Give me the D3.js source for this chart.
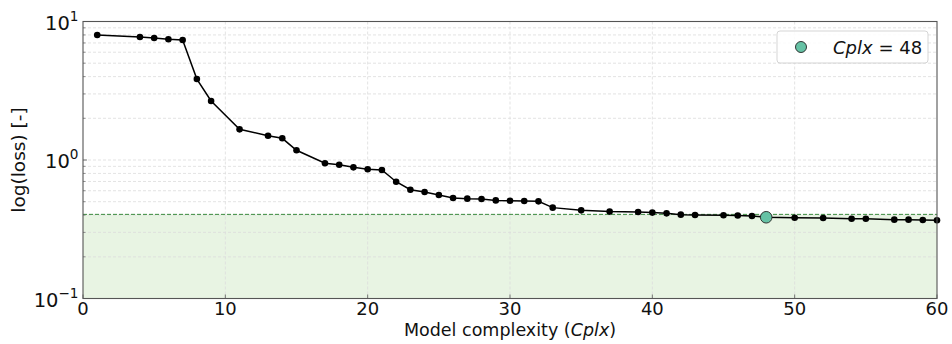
<!DOCTYPE html>
<html>
<head>
<meta charset="utf-8">
<script src="https://cdn.jsdelivr.net/npm/d3@7"></script>
<style>
  html, body { margin: 0; padding: 0; background: #fff; }
  svg { display: block; font-family: "DejaVu Sans", sans-serif; }
</style>
</head>
<body>
<svg id="chart" width="952" height="344"></svg>
<script>
// Model complexity vs. loss
const complexity = [1, 4, 5, 6, 7, 8, 9, 11, 13, 14, 15, 17, 18, 19, 20, 21, 22, 23, 24, 25,
  26, 27, 28, 29, 30, 31, 32, 33, 35, 37, 39, 40, 41, 42, 43, 45, 46, 47, 48, 50,
  52, 54, 55, 57, 58, 59, 60];
const loss = [7.99, 7.73, 7.60, 7.44, 7.35, 3.84, 2.67, 1.665, 1.498, 1.434, 1.175, 0.947, 0.925, 0.885, 0.857, 0.847, 0.697, 0.610, 0.587, 0.559,
  0.532, 0.526, 0.523, 0.511, 0.508, 0.506, 0.503, 0.453, 0.433, 0.424, 0.421, 0.417, 0.412, 0.403, 0.401, 0.399, 0.397, 0.394, 0.386, 0.383,
  0.381, 0.377, 0.377, 0.371, 0.371, 0.369, 0.367];
const selectedCplx = 48;
const lossThreshold = 0.405;
const xTicks = [0, 10, 20, 30, 40, 50, 60];
const yDecades = [-1, 0, 1];

const svg = d3.select("#chart");
const W = 952, H = 344;
const margin = { top: 21.5, right: 15, bottom: 45.5, left: 83 };
const iw = W - margin.left - margin.right;
const ih = H - margin.top - margin.bottom;

const x = d3.scaleLinear().domain([0, 60]).range([0, iw]);
const y = d3.scaleLog().domain([0.1, 10]).range([ih, 0]);

const g = svg.append("g").attr("transform", `translate(${margin.left},${margin.top})`);

const data = complexity.map((c, i) => ({ c, v: loss[i] }));

// shaded region under the tolerance level
g.append("rect")
  .attr("x", 0).attr("width", iw)
  .attr("y", y(lossThreshold)).attr("height", ih - y(lossThreshold))
  .attr("fill", "#e8f4e3");

// grid: vertical majors, horizontal majors + minors
const gridColor = "#dcdcdc";
g.append("g").selectAll("line").data(xTicks.slice(1, -1)).join("line")
  .attr("x1", d => x(d)).attr("x2", d => x(d))
  .attr("y1", 0).attr("y2", ih)
  .attr("stroke", gridColor).attr("stroke-width", 0.8).attr("stroke-dasharray", "3,2");

const minorVals = [];
for (let e = -1; e < 1; e++) for (let m = 2; m <= 9; m++) minorVals.push(m * Math.pow(10, e));
const hVals = minorVals.concat([1]);
g.append("g").selectAll("line").data(hVals).join("line")
  .attr("x1", 0).attr("x2", iw)
  .attr("y1", d => y(d)).attr("y2", d => y(d))
  .attr("stroke", gridColor).attr("stroke-width", 0.8).attr("stroke-dasharray", "3,2");

// tolerance line
g.append("line")
  .attr("x1", 0).attr("x2", iw)
  .attr("y1", y(lossThreshold)).attr("y2", y(lossThreshold))
  .attr("stroke", "#3a8a3e").attr("stroke-width", 1).attr("stroke-dasharray", "4,2");

// loss curve
g.append("path").datum(data)
  .attr("fill", "none").attr("stroke", "#000").attr("stroke-width", 1.5)
  .attr("d", d3.line().x(d => x(d.c)).y(d => y(d.v)));

g.append("g").selectAll("circle").data(data.filter(d => d.c !== selectedCplx)).join("circle")
  .attr("cx", d => x(d.c)).attr("cy", d => y(d.v)).attr("r", 3.3)
  .attr("fill", "#000");

const sel = data.find(d => d.c === selectedCplx);
g.append("circle")
  .attr("cx", x(sel.c)).attr("cy", y(sel.v)).attr("r", 5.8)
  .attr("fill", "#66c2a5").attr("stroke", "#222").attr("stroke-width", 0.9);

// inward tick marks
const tickColor = "#555";
g.append("g").selectAll("line").data(xTicks).join("line")
  .attr("x1", d => x(d)).attr("x2", d => x(d))
  .attr("y1", ih).attr("y2", ih - 4)
  .attr("stroke", tickColor).attr("stroke-width", 0.8);
g.append("g").selectAll("line").data(yDecades.map(e => Math.pow(10, e))).join("line")
  .attr("x1", 0).attr("x2", 4)
  .attr("y1", d => y(d)).attr("y2", d => y(d))
  .attr("stroke", tickColor).attr("stroke-width", 0.8);
g.append("g").selectAll("line").data(minorVals).join("line")
  .attr("x1", 0).attr("x2", 2.5)
  .attr("y1", d => y(d)).attr("y2", d => y(d))
  .attr("stroke", tickColor).attr("stroke-width", 0.6);

// frame
g.append("rect")
  .attr("x", 0).attr("y", 0).attr("width", iw).attr("height", ih)
  .attr("fill", "none").attr("stroke", "#555").attr("stroke-width", 1.1);

// x tick labels
g.append("g").selectAll("text").data(xTicks).join("text")
  .attr("x", d => x(d)).attr("y", ih + 16.3)
  .attr("text-anchor", "middle")
  .attr("font-size", "18px").attr("fill", "#111")
  .text(d => d);

// y tick labels (powers of ten)
const yl = g.append("g").selectAll("text").data(yDecades).join("text")
  .attr("x", -4.5).attr("y", d => y(Math.pow(10, d)) + 8)
  .attr("text-anchor", "end")
  .attr("font-size", "19.5px").attr("fill", "#111");
yl.append("tspan").text("10");
yl.append("tspan").attr("dy", -8.6).attr("font-size", "13.6px")
  .text(d => d < 0 ? "\u2212" + Math.abs(d) : d);

// axis titles
svg.append("text")
  .attr("x", margin.left + iw / 2).attr("y", 335.5)
  .attr("text-anchor", "middle").attr("font-size", "17.5px").attr("fill", "#111")
  .call(t => {
    t.append("tspan").text("Model complexity (");
    t.append("tspan").attr("font-style", "italic").text("Cplx");
    t.append("tspan").text(")");
  });

svg.append("text")
  .attr("transform", `translate(25,${margin.top + ih / 2}) rotate(-90)`)
  .attr("text-anchor", "middle").attr("font-size", "18.5px").attr("fill", "#111")
  .text("log(loss) [-]");

// legend
const lg = svg.append("g").attr("transform", "translate(777,31)");
lg.append("rect")
  .attr("width", 151).attr("height", 32).attr("rx", 3)
  .attr("fill", "#fff").attr("fill-opacity", 0.85)
  .attr("stroke", "#d0d0d0").attr("stroke-width", 0.9);
lg.append("circle")
  .attr("cx", 24).attr("cy", 16).attr("r", 5.5)
  .attr("fill", "#66c2a5").attr("stroke", "#222").attr("stroke-width", 0.9);
lg.append("text")
  .attr("x", 56).attr("y", 22.5).attr("font-size", "18px").attr("fill", "#111")
  .call(t => {
    t.append("tspan").attr("font-style", "italic").text("Cplx");
    t.append("tspan").text(" = " + selectedCplx);
  });
</script>
</body>
</html>
